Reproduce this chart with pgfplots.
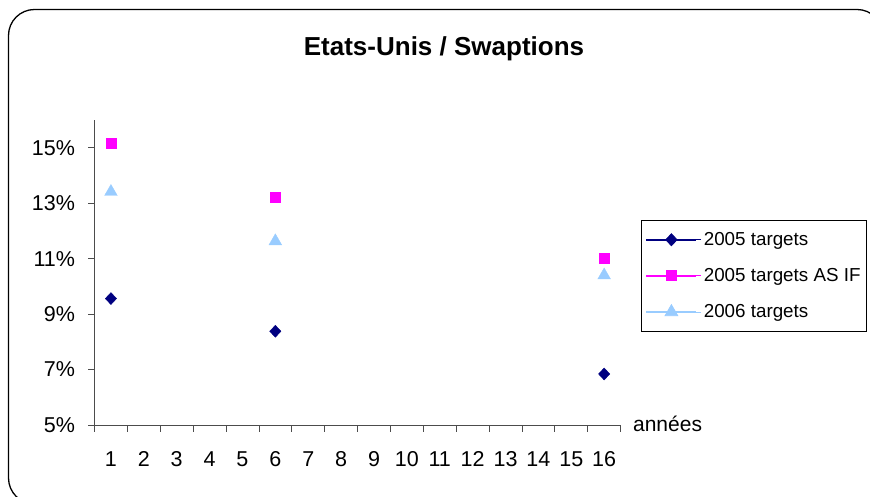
\documentclass[border=0pt]{standalone}
\usepackage{fontspec}
\setmainfont{Liberation Sans}
\usepackage{pgfplots}
\pgfplotsset{compat=1.18}
\definecolor{navy}{HTML}{000080}
\definecolor{mag}{HTML}{FF00FF}
\definecolor{lblue}{HTML}{99CCFF}
\begin{document}
\begin{tikzpicture}[x=1pt,y=1pt]
\useasboundingbox (0,0) rectangle (870,497);
\clip (0,0) rectangle (870,497);
\draw[line width=1.3pt, rounded corners=26pt] (8.5,-7) rectangle (883,487.5);
\node[font=\fontsize{26}{30}\selectfont\bfseries] at (444,448) {Etats-Unis / Swaptions};
\begin{axis}[
  at={(94.5pt,72pt)}, anchor=south west,
  scale only axis, width=526.1pt, height=305pt,
  xmin=0.5, xmax=16.5, ymin=5, ymax=16,
  axis lines*=left,
  axis line style={black!70, line width=0.8pt},
  tick align=outside,
  xtick={1,...,16},
  major x tick style={draw=none},
  minor xtick={0.5,1.5,...,16.5},
  minor tick length=7pt,
  ytick={5,7,...,15},
  major tick length=6pt,
  tick style={black!70, line width=0.8pt},
  yticklabel={\pgfmathprintnumber{\tick}\%},
  /pgf/number format/assume math mode=true,
  ticklabel style={font=\fontsize{21.5}{24}\selectfont},
  xticklabel style={yshift=-17pt},
  yticklabel style={xshift=-10pt},
  clip=false,
  legend cell align=left,
  legend style={at={(1.0388,0.672)}, anchor=north west, draw=black, line width=0.8pt,
    font=\fontsize{18.8}{22}\selectfont, row sep=17.5pt, inner xsep=4pt, inner ysep=10pt},
]
\addplot[only marks, color=navy, mark=diamond*, mark size=6pt, mark options={xscale=1.25},
  legend image code/.code={\path (0pt,0pt)--(55pt,0pt); \draw[navy, line width=2pt] (0pt,0pt)--(50pt,0pt); \draw[navy, fill=navy] plot[only marks, mark=diamond*, mark size=6pt, mark options={xscale=1.25}] coordinates {(25pt,0pt)};}]
  coordinates {(1,9.56) (6,8.38) (16,6.84)};
\addlegendentry{2005 targets}
\addplot[only marks, color=mag, mark=square*, mark size=5pt,
  legend image code/.code={\path (0pt,0pt)--(55pt,0pt); \draw[mag, line width=2pt] (0pt,0pt)--(50pt,0pt); \draw[mag, fill=mag] plot[only marks, mark=square*, mark size=5pt] coordinates {(25pt,0pt)};}]
  coordinates {(1,15.15) (6,13.23) (16,11.03)};
\addlegendentry{2005 targets AS IF}
\addplot[only marks, color=lblue, mark=triangle*, mark size=7.3pt,
  legend image code/.code={\path (0pt,0pt)--(55pt,0pt); \draw[lblue, line width=2pt] (0pt,0pt)--(50pt,0pt); \draw[lblue, fill=lblue] plot[only marks, mark=triangle*, mark size=7.3pt] coordinates {(25pt,0pt)};}]
  coordinates {(1,13.41) (6,11.63) (16,10.40)};
\addlegendentry{2006 targets}
\node[anchor=west, font=\fontsize{21}{24}\selectfont, xshift=9pt, yshift=1pt] at (rel axis cs:1,0) {années};
\end{axis}
\end{tikzpicture}
\end{document}
